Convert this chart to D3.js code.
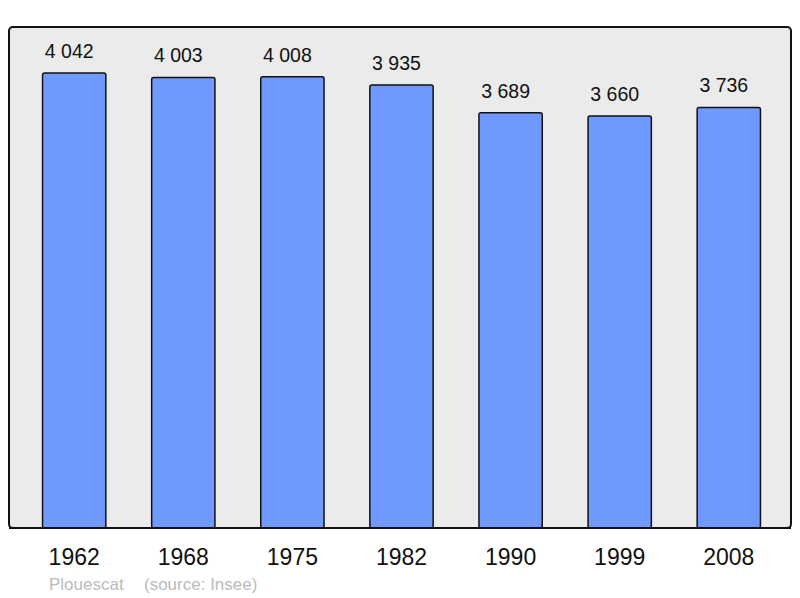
<!DOCTYPE html>
<html>
<head>
<meta charset="utf-8">
<script src="https://cdn.jsdelivr.net/npm/d3@7.9.0/dist/d3.min.js"></script>
<style>
  body { margin: 0; background: #fff; }
  text { font-family: "Liberation Sans", Arial, sans-serif; }
</style>
</head>
<body>
<svg id="chart" width="800" height="598"></svg>
<script>
// data
const years = ["1962", "1968", "1975", "1982", "1990", "1999", "2008"];
const population = [4042, 4003, 4008, 3935, 3689, 3660, 3736];
const valueLabels = ["4 042", "4 003", "4 008", "3 935", "3 689", "3 660", "3 736"];

const svg = d3.select("#chart");

// panel
svg.append("rect")
  .attr("x", 9).attr("y", 27)
  .attr("width", 782).attr("height", 501)
  .attr("rx", 4).attr("ry", 4)
  .attr("fill", "#ebebeb")
  .attr("stroke", "#111")
  .attr("stroke-width", 2);

let x = d3.scaleBand()
  .domain(years)
  .range([12, 791])
  .paddingInner(0.42)
  .paddingOuter(0.28);

let y = d3.scaleLinear()
  .domain([0, 4042])
  .range([528, 73]);

const data = years.map((yr, i) => ({ year: yr, value: population[i], label: valueLabels[i] }));

// bars
svg.selectAll("rect.bar")
  .data(data)
  .join("rect")
  .attr("class", "bar")
  .attr("x", d => x(d.year))
  .attr("y", d => y(d.value))
  .attr("width", x.bandwidth())
  .attr("height", d => y(0) - y(d.value))
  .attr("rx", 2)
  .attr("fill", "#7099ff")
  .attr("stroke", "#111")
  .attr("stroke-width", 1.5);

// redraw bottom edge of panel on top of bars
svg.append("line")
  .attr("x1", 9).attr("x2", 791)
  .attr("y1", 528).attr("y2", 528)
  .attr("stroke", "#111")
  .attr("stroke-width", 2);

// value labels (sit a little left of the bar centre in the original)
svg.selectAll("text.val")
  .data(data)
  .join("text")
  .attr("class", "val")
  .attr("x", d => x(d.year) + x.bandwidth() / 2 - 5)
  .attr("y", d => y(d.value) - 15)
  .attr("text-anchor", "middle")
  .attr("font-size", 19.5)
  .attr("fill", "#111")
  .text(d => d.label);

// year labels
svg.selectAll("text.year")
  .data(data)
  .join("text")
  .attr("class", "year")
  .attr("x", d => x(d.year) + x.bandwidth() / 2)
  .attr("y", 565)
  .attr("text-anchor", "middle")
  .attr("font-size", 23)
  .attr("fill", "#111")
  .text(d => d.year);

// footer
svg.append("text")
  .attr("x", 49).attr("y", 590)
  .attr("font-size", 17)
  .attr("fill", "#bbbbbb")
  .text("Plouescat");
svg.append("text")
  .attr("x", 144).attr("y", 590)
  .attr("font-size", 17)
  .attr("fill", "#bbbbbb")
  .text("(source: Insee)");
</script>
</body>
</html>
